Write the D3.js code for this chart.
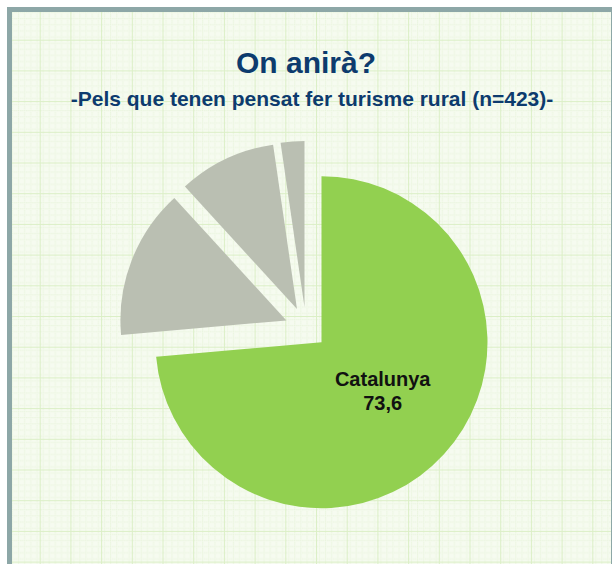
<!DOCTYPE html>
<html>
<head>
<meta charset="utf-8">
<script src="https://cdn.jsdelivr.net/npm/d3@7"></script>
<style>
  body { margin: 0; background: #fff; }
  svg { display: block; font-family: Arial, "Liberation Sans", sans-serif; }
</style>
</head>
<body>
<div class="chart"></div>
<script>
// Data
var categories = ["Catalunya", "Resta de l'Estat", "Estranger", "NS/NC"];
var values = [73.6, 14.6, 9.5, 2.3];
var labelled = ["Catalunya"];
var title = "On anirà?";
var subtitle = "-Pels que tenen pensat fer turisme rural (n=423)-";

// Canvas
var outerWidth = 612;
var outerHeight = 564;
var cx = 306, cy = 328;
var radius = 166;
var explode = 21;

var colorScale = d3.scaleOrdinal()
  .domain(categories)
  .range(["#92d050", "#babfb2", "#babfb2", "#babfb2"]);

var svg = d3.select(".chart").append("svg")
  .attr("width", outerWidth)
  .attr("height", outerHeight);

// Grid paper background
var defs = svg.append("defs");
var step = 30.7;
var minor = defs.append("pattern")
  .attr("id", "minor")
  .attr("patternUnits", "userSpaceOnUse")
  .attr("x", 9).attr("y", 9)
  .attr("width", step / 5).attr("height", step / 5);
minor.append("rect").attr("width", step / 5).attr("height", step / 5).attr("fill", "#f6fbf0");
minor.append("path")
  .attr("d", "M0,0.5H" + step / 5 + "M0.5,0V" + step / 5)
  .attr("stroke", "#e6f3d8").attr("stroke-width", 1)
  .attr("stroke-dasharray", "1,1");

var major = defs.append("pattern")
  .attr("id", "major")
  .attr("patternUnits", "userSpaceOnUse")
  .attr("x", 9).attr("y", 9)
  .attr("width", step).attr("height", step);
major.append("rect").attr("width", step).attr("height", step).attr("fill", "url(#minor)");
major.append("path")
  .attr("d", "M0,0.5H" + step + "M0.5,0V" + step)
  .attr("stroke", "#dbefc6").attr("stroke-width", 1);

svg.append("rect")
  .attr("x", 9.5).attr("y", 9.5)
  .attr("width", 604).attr("height", 570)
  .attr("fill", "url(#major)")
  .attr("stroke", "#8da7a7")
  .attr("stroke-width", 5);

// Titles
svg.append("text")
  .attr("x", 306).attr("y", 73)
  .attr("text-anchor", "middle")
  .attr("font-size", 30).attr("font-weight", "bold")
  .attr("fill", "#0d3b6e")
  .text(title);

svg.append("text")
  .attr("x", 312).attr("y", 106)
  .attr("text-anchor", "middle")
  .attr("font-size", 21).attr("font-weight", "bold")
  .attr("fill", "#0d3b6e")
  .text(subtitle);

// Pie
var pie = d3.pie().sort(null).value(function(d) { return d; });
var arc = d3.arc().innerRadius(0).outerRadius(radius);
var labelArc = d3.arc().innerRadius(radius * 0.5).outerRadius(radius * 0.5);

var arcs = pie(values);

function shift(d) {
  var a = (d.startAngle + d.endAngle) / 2;
  return [Math.sin(a) * explode, -Math.cos(a) * explode];
}

var group = svg.selectAll("g.slice").data(arcs)
  .enter().append("g")
    .attr("class", "slice")
    .attr("transform", function(d) {
      var s = shift(d);
      return "translate(" + (cx + s[0]) + "," + (cy + s[1]) + ")";
    });

group.append("path")
  .attr("d", arc)
  .attr("fill", function(d, i) { return colorScale(categories[i]); });

var lbl = group.filter(function(d, i) { return labelled.indexOf(categories[i]) >= 0; })
  .append("text")
    .attr("transform", function(d) {
      var c = labelArc.centroid(d);
      return "translate(" + c[0] + "," + (c[1] - 12) + ")";
    })
    .attr("text-anchor", "middle")
    .attr("font-size", 20).attr("font-weight", "bold")
    .attr("fill", "#111");

lbl.append("tspan").attr("x", 0).attr("dy", 0)
  .text(function(d) { return categories[d.index]; });
lbl.append("tspan").attr("x", 0).attr("dy", 24)
  .text(function(d) { return d3.format(".1f")(d.value).replace(".", ","); });
</script>
</body>
</html>
